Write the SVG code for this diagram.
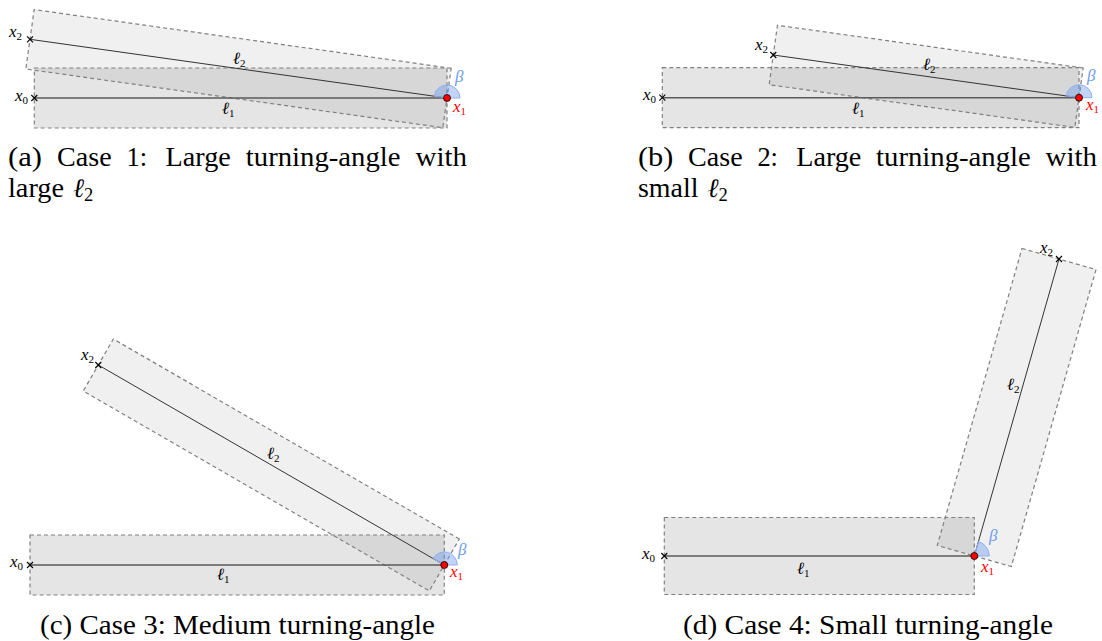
<svg xmlns="http://www.w3.org/2000/svg" width="1102" height="641" viewBox="0 0 1102 641">
<style>
.r1{fill:#000;fill-opacity:0.1}
.r2{fill:#000;fill-opacity:0.06}
.dash{fill:none;stroke:#808080;stroke-width:1.2;stroke-dasharray:4 3}
.seg1{stroke:#5a5a5a;stroke-width:1.5}
.seg2{stroke:#333;stroke-width:1}
.cross{stroke:#000;stroke-width:1.1}
.dot{fill:#f00;stroke:#000;stroke-width:0.8}
.wedge{fill:#6495ed;fill-opacity:0.4;stroke:#8fb0f0;stroke-width:1}
.m{font-family:"Liberation Serif",serif;font-style:italic;font-size:17px;fill:#000}
.sub{font-size:11px;font-style:normal}
.red{fill:#f00}
.blue{fill:#6f9cf0}
.cap{font-family:"Liberation Serif",serif;font-size:26.5px;fill:#000}
</style>
<defs>
<g id="xmark"><path class="cross" d="M-3,-3L3,3M-3,3L3,-3"/></g>
</defs>

<!-- Panel (a) -->
<g id="panel-a">
  <g id="a-rects">
    <polygon id="a-rect1" class="r1" points="34.3,68 447,68 447,128 34.3,128"/>
    <polygon id="a-rect2" class="r2" points="451.18,68.29 34.18,9.59 25.82,69.01 442.82,127.71"/>
    <polygon class="dash" points="34.3,68 447,68 447,128 34.3,128"/>
    <polygon class="dash" points="451.18,68.29 34.18,9.59 25.82,69.01 442.82,127.71"/>
  </g>
  <g id="a-connectors">
    <line id="a-l1" class="seg1" x1="34.3" y1="98" x2="447" y2="98"/>
    <line id="a-l2" class="seg2" x1="447" y1="98" x2="30" y2="39.3"/>
    <path id="a-beta" class="wedge" d="M447,98 L460,98 A13,13 0 0 0 434.13,96.19 Z"/>
  </g>
  <g id="a-x0"><use href="#xmark" x="34.3" y="98"/><text class="m" x="15" y="101">x<tspan class="sub" dy="3">0</tspan></text></g>
  <g id="a-x2"><use href="#xmark" x="30" y="39.3"/><text class="m" x="9" y="37">x<tspan class="sub" dy="3">2</tspan></text></g>
  <g id="a-x1"><circle class="dot" cx="447" cy="98" r="3.5"/><text class="m red" x="453" y="112">x<tspan class="sub" dy="3">1</tspan></text></g>
  <text class="m" x="233" y="64">ℓ<tspan class="sub" dy="3">2</tspan></text>
  <text class="m" x="222" y="114">ℓ<tspan class="sub" dy="3">1</tspan></text>
  <text class="m blue" x="455" y="82">β</text>
  <g id="a-caption">
    <text class="cap" x="8" y="166" textLength="34" lengthAdjust="spacingAndGlyphs">(a)</text>
    <text class="cap" x="57" y="166" textLength="54.6" lengthAdjust="spacingAndGlyphs">Case</text>
    <text class="cap" x="126.5" y="166" textLength="20.6" lengthAdjust="spacingAndGlyphs">1:</text>
    <text class="cap" x="165.6" y="166" textLength="65.2" lengthAdjust="spacingAndGlyphs">Large</text>
    <text class="cap" x="245.8" y="166" textLength="154.7" lengthAdjust="spacingAndGlyphs">turning-angle</text>
    <text class="cap" x="415.5" y="166" textLength="51.5" lengthAdjust="spacingAndGlyphs">with</text>
    <text class="cap" x="8" y="197" textLength="56" lengthAdjust="spacingAndGlyphs">large</text>
    <text class="cap" x="73" y="197" font-style="italic">ℓ<tspan font-size="18.5" font-style="normal" dy="4">2</tspan></text>
  </g>
</g>

<!-- Panel (b) -->
<g id="panel-b">
  <g id="b-rects">
    <polygon id="b-rect1" class="r1" points="662.3,67.7 1079,67.7 1079,127.7 662.3,127.7"/>
    <polygon id="b-rect2" class="r2" points="1083.15,67.99 777.45,25.29 769.15,84.71 1074.85,127.41"/>
    <polygon class="dash" points="662.3,67.7 1079,67.7 1079,127.7 662.3,127.7"/>
    <polygon class="dash" points="1083.15,67.99 777.45,25.29 769.15,84.71 1074.85,127.41"/>
  </g>
  <g id="b-connectors">
    <line id="b-l1" class="seg1" x1="662.3" y1="97.7" x2="1079" y2="97.7"/>
    <line id="b-l2" class="seg2" x1="1079" y1="97.7" x2="773.3" y2="55"/>
    <path id="b-beta" class="wedge" d="M1079,97.7 L1092,97.7 A13,13 0 0 0 1066.13,95.9 Z"/>
  </g>
  <g id="b-x0"><use href="#xmark" x="662.3" y="97.7"/><text class="m" x="643" y="100">x<tspan class="sub" dy="3">0</tspan></text></g>
  <g id="b-x2"><use href="#xmark" x="773.3" y="55"/><text class="m" x="755" y="50">x<tspan class="sub" dy="3">2</tspan></text></g>
  <g id="b-x1"><circle class="dot" cx="1079" cy="97.7" r="3.5"/><text class="m red" x="1086" y="110">x<tspan class="sub" dy="3">1</tspan></text></g>
  <text class="m" x="923" y="70">ℓ<tspan class="sub" dy="3">2</tspan></text>
  <text class="m" x="852" y="114">ℓ<tspan class="sub" dy="3">1</tspan></text>
  <text class="m blue" x="1087" y="81">β</text>
  <g id="b-caption">
    <text class="cap" x="638" y="166" textLength="35.4" lengthAdjust="spacingAndGlyphs">(b)</text>
    <text class="cap" x="688.1" y="166" textLength="54.6" lengthAdjust="spacingAndGlyphs">Case</text>
    <text class="cap" x="757.4" y="166" textLength="20.6" lengthAdjust="spacingAndGlyphs">2:</text>
    <text class="cap" x="796.2" y="166" textLength="65.2" lengthAdjust="spacingAndGlyphs">Large</text>
    <text class="cap" x="876.1" y="166" textLength="154.7" lengthAdjust="spacingAndGlyphs">turning-angle</text>
    <text class="cap" x="1045.5" y="166" textLength="51.5" lengthAdjust="spacingAndGlyphs">with</text>
    <text class="cap" x="638" y="197" textLength="60.5" lengthAdjust="spacingAndGlyphs">small</text>
    <text class="cap" x="707.5" y="197" font-style="italic">ℓ<tspan font-size="18.5" font-style="normal" dy="4">2</tspan></text>
  </g>
</g>

<!-- Panel (c) -->
<g id="panel-c">
  <g id="c-rects">
    <polygon id="c-rect1" class="r1" points="30,535 444.3,535 444.3,595 30,595"/>
    <polygon id="c-rect2" class="r2" points="459.32,539.03 113.32,339.03 83.28,390.97 429.28,590.97"/>
    <polygon class="dash" points="30,535 444.3,535 444.3,595 30,595"/>
    <polygon class="dash" points="459.32,539.03 113.32,339.03 83.28,390.97 429.28,590.97"/>
  </g>
  <g id="c-connectors">
    <line id="c-l1" class="seg1" x1="30" y1="565" x2="444.3" y2="565"/>
    <line id="c-l2" class="seg2" x1="444.3" y1="565" x2="98.3" y2="365"/>
    <path id="c-beta" class="wedge" d="M444.3,565 L457.3,565 A13,13 0 0 0 433.04,558.49 Z"/>
  </g>
  <g id="c-x0"><use href="#xmark" x="30" y="565"/><text class="m" x="10" y="567">x<tspan class="sub" dy="3">0</tspan></text></g>
  <g id="c-x2"><use href="#xmark" x="98.3" y="365"/><text class="m" x="81" y="360">x<tspan class="sub" dy="3">2</tspan></text></g>
  <g id="c-x1"><circle class="dot" cx="444.3" cy="565" r="3.5"/><text class="m red" x="450" y="577">x<tspan class="sub" dy="3">1</tspan></text></g>
  <text class="m" x="267" y="459">ℓ<tspan class="sub" dy="3">2</tspan></text>
  <text class="m" x="217" y="580">ℓ<tspan class="sub" dy="3">1</tspan></text>
  <text class="m blue" x="458" y="555">β</text>
  <text id="c-caption" class="cap" x="40" y="634" textLength="395" lengthAdjust="spacingAndGlyphs">(c) Case 3: Medium turning-angle</text>
</g>

<!-- Panel (d) -->
<g id="panel-d">
  <g id="d-rects">
    <polygon id="d-rect1" class="r1" points="664.3,517.5 974.3,517.5 974.3,594.5 664.3,594.5"/>
    <polygon id="d-rect2" class="r2" points="1021.98,248.44 1096.02,269.56 1011.32,566.56 937.28,545.44"/>
    <polygon class="dash" points="664.3,517.5 974.3,517.5 974.3,594.5 664.3,594.5"/>
    <polygon class="dash" points="1021.98,248.44 1096.02,269.56 1011.32,566.56 937.28,545.44"/>
  </g>
  <g id="d-connectors">
    <line id="d-l1" class="seg1" x1="664.3" y1="556" x2="974.3" y2="556"/>
    <line id="d-l2" class="seg2" x1="974.3" y1="556" x2="1059" y2="259"/>
    <path id="d-beta" class="wedge" d="M974.3,556 L989.3,556 A15,15 0 0 0 978.41,541.57 Z"/>
  </g>
  <g id="d-x0"><use href="#xmark" x="664.3" y="556"/><text class="m" x="642" y="559">x<tspan class="sub" dy="3">0</tspan></text></g>
  <g id="d-x2"><use href="#xmark" x="1059" y="259"/><text class="m" x="1040" y="253">x<tspan class="sub" dy="3">2</tspan></text></g>
  <g id="d-x1"><circle class="dot" cx="974.3" cy="556" r="3.5"/><text class="m red" x="981" y="572">x<tspan class="sub" dy="3">1</tspan></text></g>
  <text class="m" x="1007" y="390">ℓ<tspan class="sub" dy="3">2</tspan></text>
  <text class="m" x="797" y="574">ℓ<tspan class="sub" dy="3">1</tspan></text>
  <text class="m blue" x="989" y="541">β</text>
  <text id="d-caption" class="cap" x="683" y="634" textLength="370" lengthAdjust="spacingAndGlyphs">(d) Case 4: Small turning-angle</text>
</g>
</svg>
